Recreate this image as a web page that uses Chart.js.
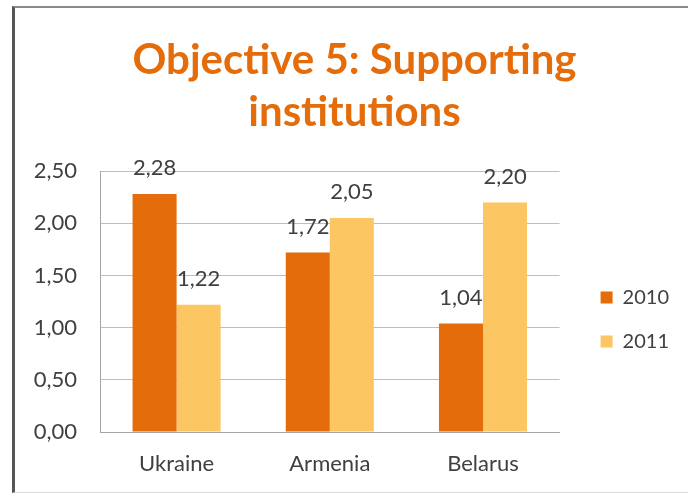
<!DOCTYPE html>
<html>
<head>
<meta charset="utf-8">
<title>Objective 5: Supporting institutions</title>
<script src="https://cdn.jsdelivr.net/npm/chart.js@4/dist/chart.umd.min.js"></script>
<style>
  body { margin: 0; background: #fff; }
  #wrap { position: relative; width: 688px; height: 494px; }
  #marco {
    position: absolute; left: 12px; top: 6px; width: 700px; height: 484px;
    border-left: 3px solid #555; border-top: 2px solid #8a8a8a; border-bottom: 1px solid #dcdcdc;
    pointer-events: none;
  }
</style>
</head>
<body>
<div id="wrap">
  <canvas id="grafico" width="688" height="494"></canvas>
  <div id="marco"></div>
</div>
<script>
const paises = ['Ukraine', 'Armenia', 'Belarus'];
const anios = ['2010', '2011'];
const valores2010 = [2.28, 1.72, 1.04];
const valores2011 = [1.22, 2.05, 2.20];
const ticksY = [0, 0.5, 1, 1.5, 2, 2.5];

const fuente = 'Lato, "Open Sans", sans-serif';
const formato = v => Number(v).toFixed(2).replace('.', ',');

// etiquetas encima de cada barra
const etiquetas = {
  id: 'etiquetas',
  afterDatasetsDraw(chart) {
    const ctx = chart.ctx;
    ctx.save();
    ctx.font = '22px ' + fuente;
    ctx.fillStyle = '#404040';
    ctx.textAlign = 'center';
    ctx.textBaseline = 'middle';
    chart.data.datasets.forEach((ds, i) => {
      chart.getDatasetMeta(i).data.forEach((barra, j) => {
        ctx.fillText(formato(ds.data[j]), barra.x, barra.y - 26);
      });
    });
    ctx.restore();
  }
};

new Chart(document.getElementById('grafico'), {
  type: 'bar',
  data: {
    labels: paises,
    datasets: [
      { label: anios[0], data: valores2010, backgroundColor: '#e46c0a' },
      { label: anios[1], data: valores2011, backgroundColor: '#fcc663' }
    ]
  },
  options: {
    responsive: false,
    animation: false,
    devicePixelRatio: 1,
    layout: { padding: { left: 30, right: 9, top: 0, bottom: -2 } },
    datasets: { bar: { categoryPercentage: 0.575, barPercentage: 1 } },
    plugins: {
      tooltip: { enabled: false },
      title: {
        display: true,
        text: ['Objective 5: Supporting', 'institutions'],
        color: '#e46c0a',
        font: { family: fuente, size: 42, weight: 'bold', lineHeight: 1.24 },
        padding: { top: 34, bottom: 33 }
      },
      legend: {
        position: 'right',
        fullSize: false,
        // titulo vacio: solo baja un poco los elementos de la leyenda
        title: { display: true, text: ' ', padding: 0, font: { size: 30 } },
        labels: {
          boxWidth: 12,
          boxHeight: 12,
          padding: 24,
          color: '#404040',
          font: { family: fuente, size: 20 }
        }
      }
    },
    scales: {
      x: {
        grid: { display: false, drawTicks: false },
        border: { color: '#a6a6a6' },
        ticks: { color: '#404040', padding: 21, font: { family: fuente, size: 22, lineHeight: 1 } }
      },
      y: {
        min: 0,
        max: 2.5,
        afterBuildTicks: scale => { scale.ticks = ticksY.map(v => ({ value: v })); },
        afterFit: scale => { scale.width = 70; },
        grid: { color: '#bdbdbd', drawTicks: false },
        border: { color: '#a6a6a6' },
        ticks: {
          color: '#404040',
          padding: 23,
          font: { family: fuente, size: 22 },
          callback: v => formato(v)
        }
      },
      // hueco entre el grafico y la leyenda
      hueco: {
        type: 'linear',
        position: 'right',
        grid: { display: false },
        border: { display: false },
        ticks: { display: false },
        afterFit: scale => { scale.width = 17; }
      }
    }
  },
  plugins: [etiquetas]
});
</script>
</body>
</html>
